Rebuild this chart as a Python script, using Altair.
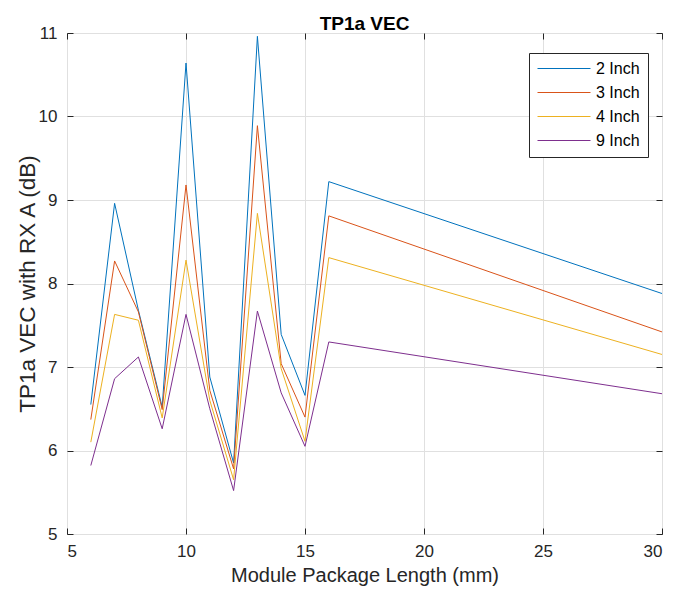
import altair as alt
import pandas as pd

x_vals = [6, 7, 8, 9, 10, 11, 12, 13, 14, 15, 16, 30]
s2 = [6.55, 8.96, 7.68, 6.52, 10.64, 6.88, 5.85, 10.96, 7.39, 6.66, 9.22, 7.88]
s3 = [6.37, 8.27, 7.66, 6.49, 9.18, 6.72, 5.78, 9.89, 7.04, 6.40, 8.81, 7.42]
s4 = [6.10, 7.63, 7.56, 6.39, 8.28, 6.60, 5.65, 8.84, 6.98, 6.11, 8.31, 7.15]
s9 = [5.82, 6.86, 7.12, 6.26, 7.63, 6.50, 5.52, 7.67, 6.69, 6.05, 7.30, 6.68]
series_names = ["2 Inch", "3 Inch", "4 Inch", "9 Inch"]
colors = ["#0072BD", "#D95319", "#EDB120", "#7E2F8E"]
x_ticks = [5, 10, 15, 20, 25, 30]
y_ticks = [5, 6, 7, 8, 9, 10, 11]

rows = []
for name, vals in zip(series_names, [s2, s3, s4, s9]):
    for i, (xv, yv) in enumerate(zip(x_vals, vals)):
        rows.append({"len": xv, "vec": yv, "series": name, "order": i})
df = pd.DataFrame(rows)

font = "Liberation Sans"
ink = "#262626"
xscale = alt.Scale(domain=[5, 30], nice=False, zero=False)
yscale = alt.Scale(domain=[5, 11], nice=False, zero=False)

lines = alt.Chart(df).mark_line(strokeWidth=1, clip=True).encode(
    x=alt.X("len:Q", scale=xscale,
            axis=alt.Axis(title="Module Package Length (mm)", values=x_ticks, orient="bottom",
                          offset=-6, tickSize=6, domain=False, grid=True,
                          labelPadding=9, minExtent=32, maxExtent=32, titlePadding=5,
                          titleFontSize=20)),
    y=alt.Y("vec:Q", scale=yscale,
            axis=alt.Axis(title="TP1a VEC with RX A (dB)", values=y_ticks, orient="left",
                          offset=-6, tickSize=6, domain=False, grid=True,
                          labelPadding=10, minExtent=26, maxExtent=26, titlePadding=8,
                          titleFontSize=22.5)),
    color=alt.Color("series:N", scale=alt.Scale(domain=series_names, range=colors),
                    legend=alt.Legend(title=None, orient="none", legendX=462, legendY=20,
                                      symbolType="stroke", symbolSize=2809, symbolStrokeWidth=1,
                                      clipHeight=15,
                                      labelFont=font, labelFontSize=16, labelColor="#000000",
                                      fillColor="white", strokeColor=ink, padding=8,
                                      rowPadding=7, labelOffset=5)),
    order="order:Q",
)

frame = alt.Chart(df).mark_line(opacity=0).encode(
    x=alt.X("len:Q", scale=xscale,
            axis=alt.Axis(title="", orient="top", labels=False, values=x_ticks,
                          offset=-6, tickSize=6, domain=False, grid=False,
                          minExtent=0, maxExtent=0, titlePadding=0)),
    y=alt.Y("vec:Q", scale=yscale,
            axis=alt.Axis(title="", orient="right", labels=False, values=y_ticks,
                          offset=-6, tickSize=6, domain=False, grid=False,
                          minExtent=0, maxExtent=0, titlePadding=0)),
)

chart = alt.layer(lines, frame).resolve_axis(x="independent", y="independent").properties(
    width=595, height=501,
    autosize=alt.AutoSizeParams(type="none"),
    padding={"left": 59, "top": 25, "right": 3, "bottom": 53},
    background="white",
    title=alt.TitleParams("TP1a VEC", font=font, fontSize=19, fontWeight="bold",
                          color="#000000", offset=4, anchor="middle", frame="group",
                          dy=14),
).configure_view(stroke=ink, strokeWidth=1).configure_axis(
    labelFont=font, labelFontSize=17, labelColor=ink, tickColor=ink,
    titleFont=font, titleColor=ink, titleFontWeight="normal",
    gridColor="#e0e0e0", gridWidth=1,
)

chart.save("out.html", embed_options={"renderer": "svg", "actions": False})
